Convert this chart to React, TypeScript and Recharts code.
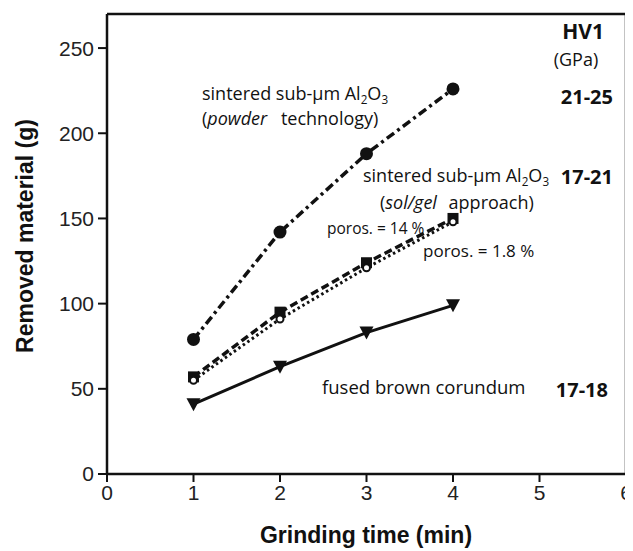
import React from 'react';
import { ComposedChart, Line, XAxis, YAxis, ReferenceLine } from 'recharts';

const times = [1, 2, 3, 4];
const powderTech = [79, 142, 188, 226];
const solGel14 = [57, 95, 124, 150];
const solGel18 = [55, 91, 121, 148];
const fusedCorundum = [41, 63, 83, 99];

const xTicks = [0, 1, 2, 3, 4, 5, 6];
const yTicks = [0, 50, 100, 150, 200, 250];

const data = times.map((t, i) => ({
  time: t,
  powder: powderTech[i],
  poros14: solGel14[i],
  poros18: solGel18[i],
  fused: fusedCorundum[i],
}));

const INK = '#111';
const tickStyle = { fill: '#222', fontSize: 21, fontFamily: '"Liberation Sans", Arial, sans-serif' };
const noteFont = '"Open Sans", "Noto Sans", sans-serif';

const CircleDot = (p: any) => <circle key={p.key ?? p.index} cx={p.cx} cy={p.cy} r={6.5} fill={INK} />;
const SquareDot = (p: any) => (
  <rect key={p.key ?? p.index} x={p.cx - 5.5} y={p.cy - 5.5} width={11} height={11} fill={INK} />
);
const SmallDot = (p: any) => (
  <circle key={p.key ?? p.index} cx={p.cx} cy={p.cy} r={3.5} fill="#fff" stroke={INK} strokeWidth={2} />
);
const TriDot = (p: any) => (
  <path
    key={p.key ?? p.index}
    d={`M${p.cx - 7},${p.cy - 6} L${p.cx + 7},${p.cy - 6} L${p.cx},${p.cy + 7} Z`}
    fill={INK}
  />
);

// Al2O3 with subscripts
const Alumina = () => (
  <>
    Al
    <tspan fontSize="0.65em" dy={4}>
      2
    </tspan>
    <tspan dy={-4}>O</tspan>
    <tspan fontSize="0.65em" dy={4}>
      3
    </tspan>
  </>
);

const App: React.FC = () => {
  return (
    <div style={{ position: 'relative', width: 625, height: 543 }}>
      <ComposedChart
        width={625}
        height={543}
        data={data}
        margin={{ top: 6, right: 7, bottom: 37, left: 39 }}
      >
        <XAxis
          dataKey="time"
          type="number"
          domain={[0, 6]}
          ticks={xTicks}
          height={40}
          tick={tickStyle}
          tickSize={8}
          tickMargin={3}
          axisLine={{ stroke: INK, strokeWidth: 2.5 }}
          tickLine={{ stroke: INK, strokeWidth: 2 }}
          allowDataOverflow
        />
        <YAxis
          type="number"
          domain={[0, 270]}
          ticks={yTicks}
          width={60}
          tick={tickStyle}
          tickSize={9}
          tickMargin={4}
          axisLine={{ stroke: INK, strokeWidth: 2.5 }}
          tickLine={{ stroke: INK, strokeWidth: 2 }}
          allowDataOverflow
        />
        <ReferenceLine y={270} stroke={INK} strokeWidth={2.5} />
        <ReferenceLine x={6} stroke={INK} strokeWidth={2.5} />
        <Line
          dataKey="powder"
          stroke={INK}
          strokeWidth={3.5}
          strokeDasharray="9 4 3 4"
          dot={CircleDot}
          isAnimationActive={false}
        />
        <Line
          dataKey="poros14"
          stroke={INK}
          strokeWidth={3.5}
          strokeDasharray="8 4"
          dot={SquareDot}
          isAnimationActive={false}
        />
        <Line
          dataKey="poros18"
          stroke={INK}
          strokeWidth={3}
          strokeDasharray="2.5 3"
          dot={SmallDot}
          isAnimationActive={false}
        />
        <Line dataKey="fused" stroke={INK} strokeWidth={3} dot={TriDot} isAnimationActive={false} />
      </ComposedChart>
      <svg
        width={625}
        height={543}
        style={{ position: 'absolute', left: 0, top: 0, pointerEvents: 'none' }}
      >
        <g fill={INK} fontFamily={noteFont}>
          <text x={596} y={31} textAnchor="end" fontSize={21} fontWeight={700}>
            HV1
          </text>
          <text x={568} y={58} textAnchor="middle" fontSize={18}>
            (GPa)
          </text>
          <text x={605} y={96} textAnchor="end" fontSize={20} fontWeight={700}>
            21-25
          </text>
          <text x={194} y={92} fontSize={18}>
            sintered sub-µm <Alumina />
          </text>
          <text x={194} y={117} fontSize={18}>
            (<tspan fontStyle="italic">powder</tspan>
            <tspan dx={9}> technology)</tspan>
          </text>
          <text x={355} y={174} fontSize={18}>
            sintered sub-µm <Alumina />
          </text>
          <text x={605} y={176} textAnchor="end" fontSize={20} fontWeight={700}>
            17-21
          </text>
          <text x={372} y={201} fontSize={18}>
            (<tspan fontStyle="italic">sol/gel</tspan>
            <tspan dx={7}> approach)</tspan>
          </text>
          <text x={319} y={226} fontSize={15.5}>
            poros. = 14 %
          </text>
          <text x={415} y={249} fontSize={17}>
            poros. = 1.8 %
          </text>
          <text x={314} y={386} fontSize={18.5}>
            fused brown corundum
          </text>
          <text x={600} y={389} textAnchor="end" fontSize={20} fontWeight={700}>
            17-18
          </text>
        </g>
        <text
          x={358}
          y={535}
          textAnchor="middle"
          fontSize={23}
          fontWeight={700}
          fill={INK}
          fontFamily='"Liberation Sans", Arial, sans-serif'
        >
          Grinding time (min)
        </text>
        <text
          transform="translate(17,228) rotate(-90)"
          textAnchor="middle"
          dominantBaseline="central"
          fontSize={23}
          fontWeight={700}
          fill={INK}
          fontFamily='"Liberation Sans", Arial, sans-serif'
        >
          Removed material (g)
        </text>
      </svg>
    </div>
  );
};

export default App;
